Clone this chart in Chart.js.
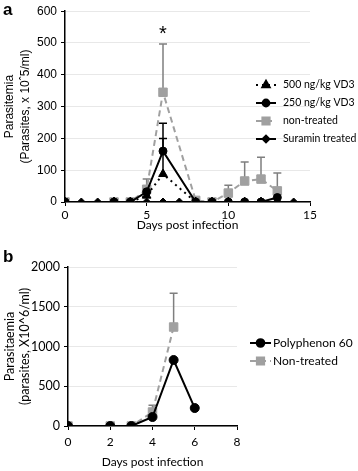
<!DOCTYPE html>
<html>
<head>
<meta charset="utf-8">
<script src="https://cdn.jsdelivr.net/npm/chart.js@4"></script>
<style>
  html, body { margin: 0; padding: 0; background: #fff; }
  #wrapA { position: absolute; left: 0; top: 0; width: 358px; height: 232px; }
  #wrapB { position: absolute; left: 0; top: 232px; width: 358px; height: 239px; }
  .panel { position: absolute; font: bold 17px "Liberation Sans", Arial, sans-serif; color: #000; }
</style>
</head>
<body>
<div id="wrapA"><canvas id="chartA"></canvas></div>
<div id="wrapB"><canvas id="chartB"></canvas></div>
<div class="panel" style="left:3px; top:0px;">a</div>
<div class="panel" style="left:3px; top:247px;">b</div>

<script>
// ---- Panel a data ----
const daysA = [0, 3, 4, 5, 6, 8, 9, 10, 11, 12, 13];
const suraminDaysA = [0, 1, 2, 3, 4, 5, 6, 7, 8, 9, 10, 11, 12, 13, 14];
const suraminA = [0, 0, 0, 0, 0, 0, 0, 0, 0, 0, 0, 0, 0, 0, 0];
const vd500A = [0, 0, 0, 20, 88, 0, 0, 0, 0, 0, 0];
const vd500ErrA = [null, null, null, null, 200, null, null, null, null, null, null];
const vd250A = [0, 0, 0, 32, 160, 0, 0, 0, 0, 0, 14];
const vd250ErrA = [null, null, null, null, 248, null, null, null, null, null, null];
const nonTreatedA = [0, 0, 0, 40, 345, 5, 0, 28, 66, 72, 35];
const nonTreatedErrA = [null, null, null, 72, 497, null, null, 53, 126, 141, 91];
const starA = { day: 6, value: 535 };

// ---- Panel b data ----
const polyDaysB = [0, 2, 3, 4, 5, 6];
const polyB = [0, 0, 0, 113, 830, 226];
const nonTreatedDaysB = [0, 2, 3, 4, 5];
const nonTreatedB = [0, 0, 0, 176, 1245];
const nonTreatedErrB = [null, null, null, 260, 1670];

const BLACK = '#000000';
const GRAY = '#a0a0a0';
const GRAY_ERR = '#7f7f7f';

const pts = (xs, ys) => xs.map((x, i) => ({ x: x, y: ys[i] }));

Chart.defaults.font.family = 'Lato';
Chart.defaults.color = '#000';

// one-sided (upper) error bars
const errorBars = {
    id: 'errorBars',
    beforeDatasetsDraw(chart) {
        const ctx = chart.ctx;
        const xs = chart.scales.x;
        const ys = chart.scales.y;
        chart.data.datasets.forEach(ds => {
            if (!ds.errTop) return;
            ctx.save();
            ctx.strokeStyle = ds.errColor || ds.borderColor;
            ctx.lineWidth = 1.5;
            ctx.setLineDash([]);
            ds.data.forEach((p, i) => {
                const top = ds.errTop[i];
                if (top == null) return;
                const px = xs.getPixelForValue(p.x);
                const py0 = ys.getPixelForValue(p.y);
                const py1 = ys.getPixelForValue(top);
                ctx.beginPath();
                ctx.moveTo(px, py0);
                ctx.lineTo(px, py1);
                ctx.moveTo(px - 4, py1);
                ctx.lineTo(px + 4, py1);
                ctx.stroke();
            });
            ctx.restore();
        });
    },
};

// legend with line + marker, like the spreadsheet one
const sideLegend = {
    id: 'sideLegend',
    afterDraw(chart, args, opts) {
        if (!opts || !opts.order) return;
        const ctx = chart.ctx;
        ctx.save();
        opts.order.forEach((idx, row) => {
            const ds = chart.data.datasets[idx];
            const cy = opts.y + row * opts.gap;
            ctx.strokeStyle = ds.borderColor;
            ctx.lineWidth = ds.borderWidth;
            ctx.setLineDash(ds.borderDash || []);
            ctx.beginPath();
            ctx.moveTo(opts.x, cy);
            ctx.lineTo(opts.x + opts.len, cy);
            ctx.stroke();
            ctx.setLineDash([]);
            ctx.fillStyle = ds.pointBackgroundColor;
            ctx.strokeStyle = ds.pointBorderColor;
            Chart.helpers.drawPoint(ctx, {
                pointStyle: ds.pointStyle,
                radius: ds.pointRadius * 0.85,
                rotation: 0,
                borderWidth: 1,
            }, opts.x + opts.len / 2, cy);
            ctx.fillStyle = '#000';
            ctx.font = opts.font;
            ctx.textBaseline = 'middle';
            ctx.textAlign = 'left';
            ctx.fillText(ds.label, opts.textX, cy);
        });
        ctx.restore();
    },
};

const starMark = {
    id: 'starMark',
    afterDatasetsDraw(chart, args, opts) {
        if (!opts || opts.day == null) return;
        const ctx = chart.ctx;
        ctx.save();
        ctx.fillStyle = '#000';
        ctx.font = '20px "Liberation Sans"';
        ctx.textAlign = 'center';
        ctx.textBaseline = 'middle';
        ctx.fillText('*', chart.scales.x.getPixelForValue(opts.day), chart.scales.y.getPixelForValue(opts.value) + 3);
        ctx.restore();
    },
};

function series(label, xs, ys, opts) {
    return Object.assign({
        label: label,
        data: pts(xs, ys),
        borderColor: BLACK,
        backgroundColor: BLACK,
        pointBackgroundColor: BLACK,
        pointBorderColor: BLACK,
        borderWidth: 2,
        pointBorderWidth: 1,
        tension: 0,
        fill: false,
    }, opts);
}

new Chart(document.getElementById('chartA'), {
    type: 'line',
    data: {
        datasets: [
            series('500 ng/kg VD3', daysA, vd500A, {
                pointStyle: 'triangle', pointRadius: 5, borderDash: [2, 4], errTop: vd500ErrA,
            }),
            series('250 ng/kg VD3', daysA, vd250A, {
                pointStyle: 'circle', pointRadius: 4, errTop: vd250ErrA,
            }),
            series('non-treated', daysA, nonTreatedA, {
                borderColor: GRAY, backgroundColor: GRAY, pointBackgroundColor: GRAY, pointBorderColor: GRAY,
                pointStyle: 'rect', pointRadius: 6, borderDash: [6, 4], errTop: nonTreatedErrA, errColor: GRAY_ERR,
            }),
            series('Suramin treated', suraminDaysA, suraminA, {
                pointStyle: 'rectRot', pointRadius: 4,
            }),
        ],
    },
    options: {
        responsive: true,
        maintainAspectRatio: false,
        animation: false,
        layout: { padding: { top: 11, right: 48, left: 0, bottom: 0 } },
        plugins: {
            legend: { display: false },
            tooltip: { enabled: false },
            sideLegend: { order: [0, 1, 2, 3], x: 256, y: 85, gap: 18, len: 20, textX: 283, font: '10.5px Lato' },
            starMark: starA,
        },
        scales: {
            x: {
                type: 'linear', min: 0, max: 15,
                ticks: { stepSize: 5, font: { size: 12 }, padding: 2 },
                grid: { drawOnChartArea: false, tickLength: 4, color: '#000' },
                border: { color: '#000', width: 1.5 },
                title: { display: true, text: 'Days post infection', font: { size: 12 }, padding: { top: 0, bottom: 0 } },
                afterFit: s => { s.height = 30; },
            },
            y: {
                min: 0, max: 600,
                ticks: { stepSize: 100, font: { family: 'Liberation Sans', size: 12 }, padding: 4 },
                grid: { color: '#e8e8e8', tickColor: '#000', tickLength: 4 },
                border: { color: '#000', width: 1.5 },
                title: {
                    display: true,
                    text: ['Parasitemia', '(Parasites, x 10\u02c65/ml)'],
                    font: { family: 'Liberation Sans', size: 12, lineHeight: 1.3 },
                    padding: { top: 2, bottom: 0 },
                },
                afterFit: s => { s.width = 65; },
            },
        },
    },
    plugins: [errorBars, sideLegend, starMark],
});

new Chart(document.getElementById('chartB'), {
    type: 'line',
    data: {
        datasets: [
            series('Polyphenon 60', polyDaysB, polyB, {
                pointStyle: 'circle', pointRadius: 4.5,
            }),
            series('Non-treated', nonTreatedDaysB, nonTreatedB, {
                borderColor: GRAY, backgroundColor: GRAY, pointBackgroundColor: GRAY, pointBorderColor: GRAY,
                pointStyle: 'rect', pointRadius: 6, borderDash: [6, 4], errTop: nonTreatedErrB, errColor: GRAY_ERR,
            }),
        ],
    },
    options: {
        responsive: true,
        maintainAspectRatio: false,
        animation: false,
        layout: { padding: { top: 35, right: 121, left: 0, bottom: 0 } },
        plugins: {
            legend: { display: false },
            tooltip: { enabled: false },
            sideLegend: { order: [0, 1], x: 250, y: 111, gap: 18, len: 21, textX: 273, font: '12px Lato' },
        },
        scales: {
            x: {
                type: 'linear', min: 0, max: 8,
                ticks: { stepSize: 2, font: { size: 12 }, padding: 5 },
                grid: { drawOnChartArea: false, tickLength: 4, color: '#000' },
                border: { color: '#000', width: 1.5 },
                title: { display: true, text: 'Days post infection', font: { size: 12 }, padding: { top: 0, bottom: 2 } },
                afterFit: s => { s.height = 45; },
            },
            y: {
                min: 0, max: 2000,
                ticks: { stepSize: 500, font: { size: 12.5 }, padding: 4, callback: v => String(v) },
                grid: { color: '#e8e8e8', tickColor: '#000', tickLength: 4 },
                border: { color: '#000', width: 1.5 },
                title: {
                    display: true,
                    text: ['Parasitaemia', '(parasites, X10^6/ml)'],
                    font: { size: 12.5, lineHeight: 1.25 },
                    padding: { top: 2, bottom: 0 },
                },
                afterFit: s => { s.width = 68; },
            },
        },
    },
    plugins: [errorBars, sideLegend],
});
</script>
</body>
</html>
